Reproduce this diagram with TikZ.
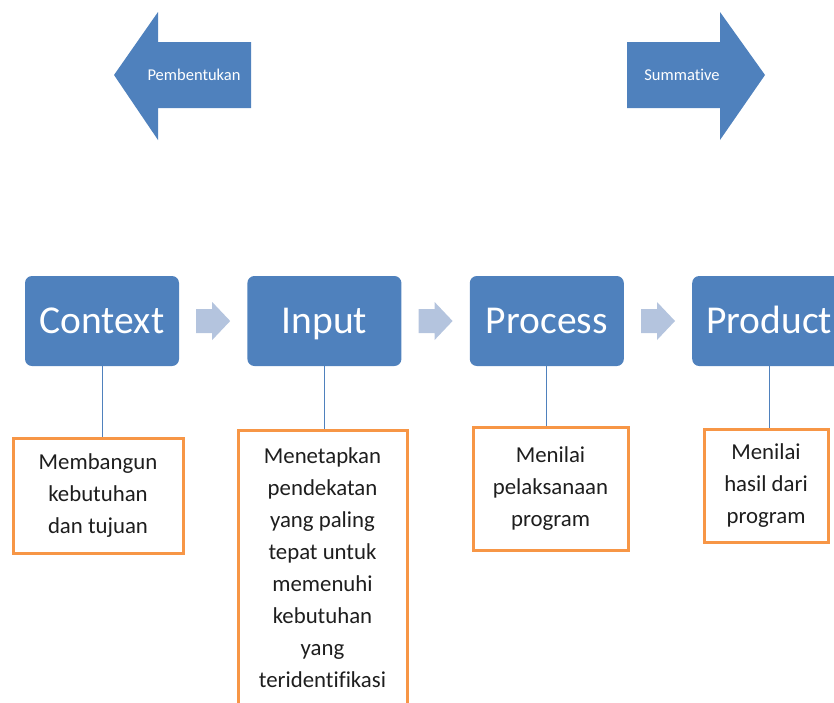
\documentclass[tikz,border=0pt]{standalone}
\usepackage{fontspec}
\setmainfont{Carlito}[Ligatures=NoCommon]
\usepackage{tikz}
\usetikzlibrary{positioning}
\usetikzlibrary{calc}

\definecolor{stepblue}{RGB}{79,129,189}
\definecolor{paleblue}{RGB}{180,196,222}
\definecolor{boxorange}{RGB}{247,150,70}
\definecolor{bodytext}{RGB}{30,30,30}

\begin{document}
\begin{tikzpicture}[x=1pt,y=-1pt,node distance=68pt,
  stage/.style={rectangle,rounded corners=7pt,fill=stepblue,text=white,minimum width=154pt,minimum height=90pt,inner sep=0pt,text height=25pt,text depth=0pt,font=\fontsize{39.5}{42}\selectfont},
  note/.style={rectangle,draw=boxorange,line width=3pt,fill=white,align=center,text=bodytext,inner sep=0pt,font=\fontsize{22.8}{32}\selectfont},
  link/.style={draw=stepblue,line width=0.8pt},
  flow/.style={fill=paleblue},
  bigarrow/.style={fill=stepblue},
  arrowtext/.style={text=white,font=\fontsize{16.5}{19}\selectfont}]
\useasboundingbox (0,0) rectangle (834,702);

% big arrows on top
\fill[bigarrow] (114,75) -- (158,12) -- (158,42) -- (251,42) -- (251,108) -- (158,108) -- (158,140) -- cycle;
\node[arrowtext] (pem) at (194,75) {Pembentukan};
\fill[bigarrow] (765,75) -- (720,12) -- (720,42) -- (627,42) -- (627,108) -- (720,108) -- (720,140) -- cycle;
\node[arrowtext] (sum) at (682,75) {Summative};

% the four stages
\node[stage] (ctx) at (102,321)      {Context};
\node[stage] (inp) [right=of ctx]    {Input};
\node[stage] (prc) [right=of inp]    {Process};
\node[stage] (prd) [right=of prc]    {Product};

% small arrows between stages
\foreach \a/\b in {ctx/inp,inp/prc,prc/prd}
  \fill[flow,shift={($(\a.east)!0.5!(\b.west)$)}] (-17,-12) -- (-1,-12) -- (-1,-19) -- (17,0)
      -- (-1,19) -- (-1,12) -- (-17,12) -- cycle;

% descriptions
\node[note,minimum width=170pt,minimum height=115pt] (ctxnote) at (98,495.5)
  {Membangun\\kebutuhan\\dan tujuan};
\node[note,minimum width=169pt,minimum height=276pt] (inpnote) at (322.5,568)
  {Menetapkan\\pendekatan\\yang paling\\tepat untuk\\memenuhi\\kebutuhan\\yang\\teridentifikasi};
\node[note,minimum width=155pt,minimum height=123pt] (prcnote) at (550.5,488.5)
  {Menilai\\pelaksanaan\\program};
\node[note,minimum width=124pt,minimum height=113pt] (prdnote) at (766,485.5)
  {Menilai\\hasil dari\\program};

\draw[link] (ctx.south) -- (ctx.south |- ctxnote.north);
\draw[link] (inp.south) -- (inp.south |- inpnote.north);
\draw[link] (prc.south) -- (prc.south |- prcnote.north);
\draw[link] (prd.south) -- (prd.south |- prdnote.north);
\end{tikzpicture}
\end{document}
